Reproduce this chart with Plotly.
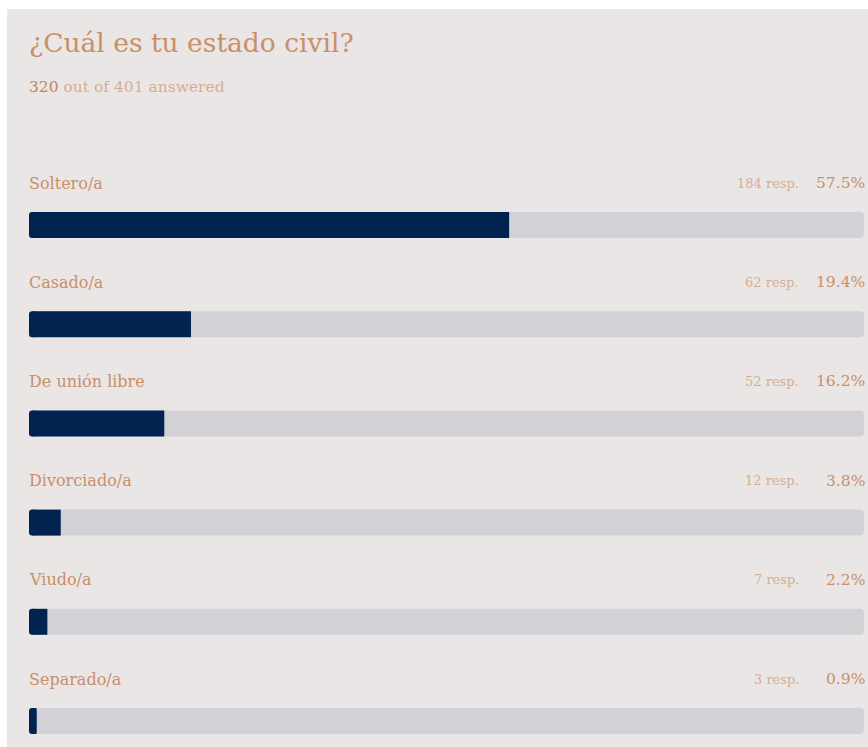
import plotly.graph_objects as go

# Survey results: marital status
categories = ["Soltero/a", "Casado/a", "De unión libre", "Divorciado/a", "Viudo/a", "Separado/a"]
responses = [184, 62, 52, 12, 7, 3]
percents = [57.5, 19.4, 16.2, 3.8, 2.2, 0.9]
answered = 320
total = 401

W, H = 868, 747
ML, MR = 29, 4
UNIT = 99.2          # pixels between rows
FIRST = 225          # pixel centre of first bar
BAR_PX = 26

BG = "#EAE6E5"
TRACK = "#D2D1D5"
FILL = "#00234F"
LABEL = "#C98F69"
LIGHT = "#D5AE92"
SERIF = "DejaVu Serif, Georgia, serif"

rows = list(range(len(categories)))
y_top = -FIRST / UNIT
y_bot = (H - FIRST) / UNIT
bw = BAR_PX / UNIT
n = len(rows)
cap = min(percents)   # width of the rounded left cap (never wider than the smallest share)
half = cap / 2

fig = go.Figure()

# background track: starts inside the cap, rounded on the right end only
fig.add_trace(go.Bar(y=rows, x=[100 - half] * n, base=[half] * n, orientation="h",
                     width=bw, marker=dict(color=TRACK, line_width=0), hoverinfo="skip"))
# filled share: square body plus a short rounded cap at the left end
fig.add_trace(go.Bar(y=rows, x=[p - half for p in percents], base=[half] * n, orientation="h",
                     width=bw, marker=dict(color=FILL, line_width=0, cornerradius=0),
                     hoverinfo="skip"))
fig.add_trace(go.Bar(y=rows, x=[-cap] * n, base=[cap] * n, orientation="h",
                     width=bw, marker=dict(color=FILL, line_width=0), hoverinfo="skip"))

ann = []
off = 42 / UNIT
for i, (c, r, p) in enumerate(zip(categories, responses, percents)):
    ann.append(dict(x=0, y=i - off, xref="x", yref="y", text=c, showarrow=False,
                    xanchor="left", yanchor="middle", xshift=-2,
                    font=dict(family=SERIF, size=16, color=LABEL)))
    ann.append(dict(x=100, y=i - off, xref="x", yref="y", text=f"{p:.1f}%", showarrow=False,
                    xanchor="right", yanchor="middle", xshift=3,
                    font=dict(family=SERIF, size=15.5, color=LABEL)))
    ann.append(dict(x=100, y=i - off, xref="x", yref="y", text=f"{r} resp.", showarrow=False,
                    xanchor="right", yanchor="middle", xshift=-63,
                    font=dict(family=SERIF, size=13, color=LIGHT)))

pw = W - ML - MR
def px_x(p):
    return (p - ML) / pw

# title and subtitle
ann.append(dict(x=px_x(29), y=1 - 42 / H, xref="paper", yref="paper",
                text="¿Cuál es tu estado civil?", showarrow=False,
                xanchor="left", yanchor="middle", xshift=-2,
                font=dict(family=SERIF, size=26.5, color=LABEL)))
ann.append(dict(x=px_x(29), y=1 - 87 / H, xref="paper", yref="paper",
                text=f"<span style='color:#C4845A'>{answered}</span> out of {total} answered",
                showarrow=False, xanchor="left", yanchor="middle", xshift=-2,
                font=dict(family=SERIF, size=15.5, color=LIGHT)))

fig.update_layout(
    width=W, height=H,
    margin=dict(l=ML, r=MR, t=0, b=0),
    paper_bgcolor="white", plot_bgcolor="rgba(0,0,0,0)",
    barmode="overlay", barcornerradius=4, showlegend=False,
    xaxis=dict(range=[0, 100], visible=False, fixedrange=True),
    yaxis=dict(range=[y_bot, y_top], visible=False, fixedrange=True),
    annotations=ann,
    shapes=[dict(type="rect", xref="paper", yref="paper",
                 x0=px_x(7), x1=px_x(W + 5), y0=-0.01, y1=1 - 9 / H,
                 fillcolor=BG, line_width=0, layer="below")],
)

fig.write_html("out.html", config={"displayModeBar": False})
